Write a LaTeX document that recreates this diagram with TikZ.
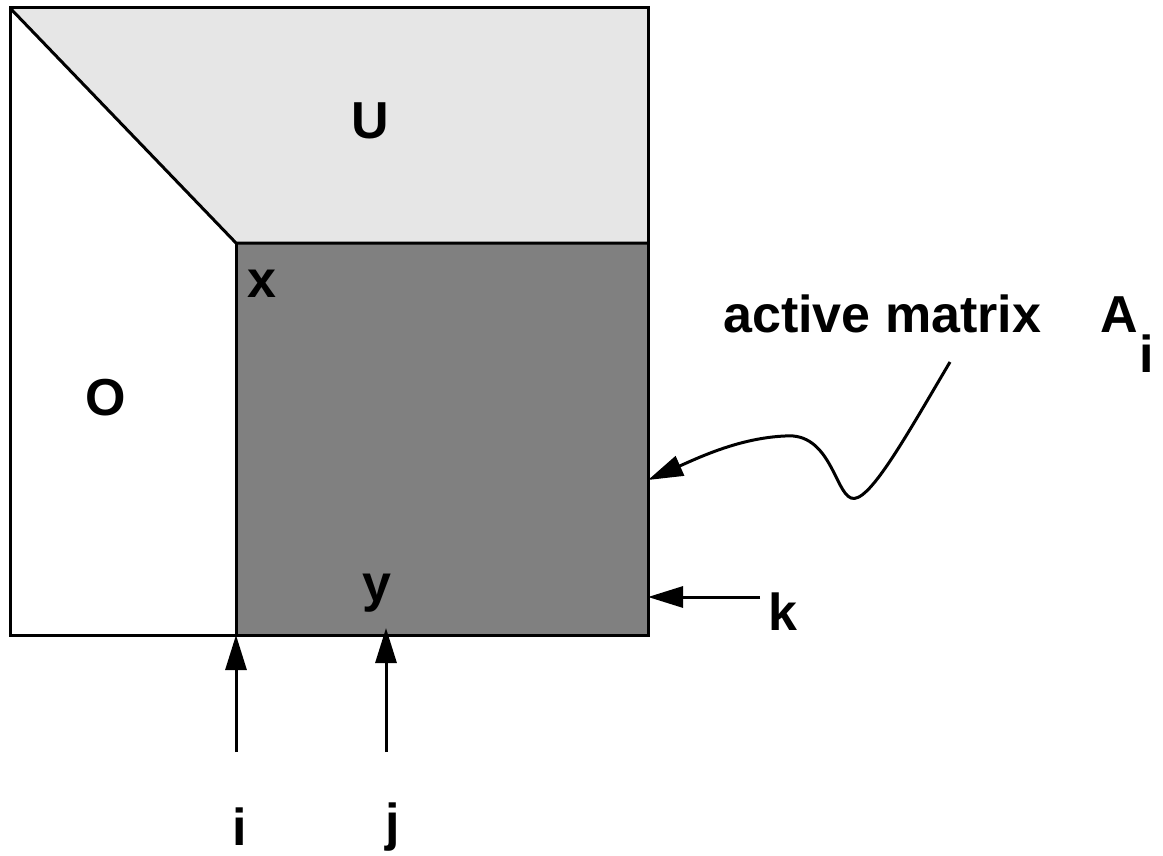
\documentclass[tikz,border=0pt]{standalone}
\usepackage{fontspec}
\setmainfont{Liberation Sans}
\usetikzlibrary{arrows.meta}
\definecolor{lightfill}{HTML}{E6E6E6}
\definecolor{darkfill}{HTML}{808080}
\begin{document}
\begin{tikzpicture}[x=1pt,y=-1pt,
  edge/.style={line width=3pt,line join=miter},
  pointer/.style={line width=3pt,-{Triangle[length=35pt,width=21pt]}},
  lbl/.style={font=\fontsize{52}{62}\selectfont\bfseries,inner sep=0pt}]
\useasboundingbox (0,0) rectangle (1163,856);
% corners
\coordinate (TL) at (10,8);
\coordinate (TR) at (648,8);
\coordinate (BL) at (10,635);
\coordinate (BR) at (648,635);
\coordinate (C) at (236,243);
\coordinate (E) at (648,243);
\coordinate (B) at (236,635);
% fills
\fill[lightfill] (TL) -- (TR) -- (E) -- (C) -- cycle;
\fill[darkfill] (C) rectangle (BR);
% outlines
\draw[edge] (TL) rectangle (BR);
\draw[edge] (TL) -- (C) -- (E);
\draw[edge] (C) -- (B);
% labels
\node[lbl] (U) at (370,121) {U};
\node[lbl] (O) at (106,398) {O};
\node[lbl] (x) at (262,284) {x};
\node[lbl] (y) at (377,593) {y};
\node[lbl,anchor=west] (k) at (768,612) {k};
\node[lbl] (i) at (240,827) {i};
\node[lbl] (j) at (393,827) {j};
\node[lbl,anchor=base west] (am) at (723,332) {active matrix};
\node[lbl,anchor=base west] (A) at (1100,332) {A};
\node[lbl,anchor=base west] (sub) at (1139,372) {i};
% arrows
\coordinate (istart) at (236,752);
\coordinate (jstart) at (386,752);
\coordinate (jend) at (386,628);
\coordinate (kstart) at (760,597);
\coordinate (kend) at (648,597);
\coordinate (cstart) at (950,362);
\coordinate (cend) at (648,480);
\draw[pointer] (istart) -- (B);
\draw[pointer] (jstart) -- (jend);
\draw[pointer] (kstart) -- (kend);
\draw[pointer] (cstart) .. controls (905,438) and (868,505) .. (851,498)
  .. controls (835,492) and (830,432) .. (785,436)
  .. controls (740,438) and (700,457) .. (cend);
\end{tikzpicture}
\end{document}
